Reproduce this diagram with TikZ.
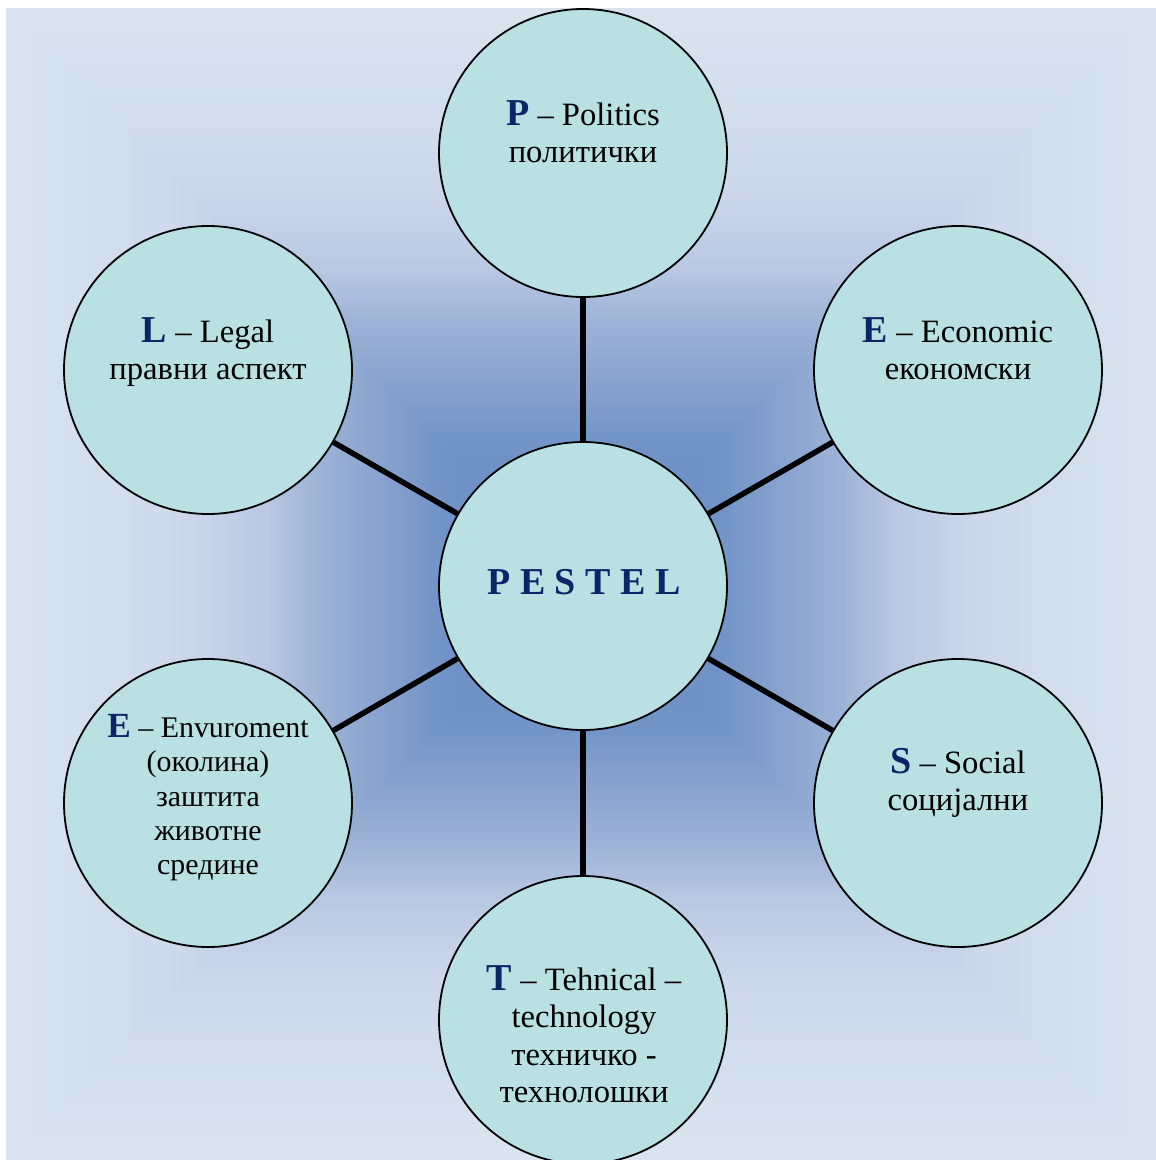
\documentclass[tikz,border=0pt]{standalone}
\usepackage{fontspec}
\setmainfont{Liberation Serif}
\definecolor{navy}{RGB}{10,38,104}
\definecolor{circfill}{RGB}{185,224,227}
\definecolor{gA}{RGB}{100,138,195}
\definecolor{gB}{RGB}{114,148,199}
\definecolor{gC}{RGB}{156,177,214}
\definecolor{gD}{RGB}{185,200,227}
\definecolor{gE}{RGB}{205,216,235}
\definecolor{gF}{RGB}{218,228,240}
\newcommand\gradseg[5]{%
  \foreach \i in {#1,#2,...,#3}{%
    \pgfmathsetmacro\p{100*(\i-#3)/(#1-#3)}%
    \pgfmathsetmacro\t{\i/200}%
    \fill[#4!\p!#5] ({581-575*\t},{584-576*\t}) rectangle ({581+575*\t},{584+576*\t});
  }}
\newcommand\BL[1]{{\fontsize{38}{37.5}\selectfont\bfseries\color{navy}#1}}
\newcommand\BLs[1]{{\fontsize{35.3}{34.4}\selectfont\bfseries\color{navy}#1}}
\begin{document}
\begin{tikzpicture}[x=1pt,y=-1pt,
  disc/.style={circle, draw=black, line width=1.8pt, fill=circfill, minimum size=288pt, inner sep=0pt},
  lbl/.style={anchor=north, align=center, inner sep=0pt, font=\fontsize{32.6}{37.5}\selectfont},
  lblsmall/.style={anchor=north, align=center, inner sep=0pt, font=\fontsize{29.9}{34.4}\selectfont},
  link/.style={line width=5.5pt, draw=black}]
\useasboundingbox (0,0) rectangle (1156,1160);
% background rectangular gradient
\gradseg{200}{199}{140}{gF}{gE}
\gradseg{140}{139}{110}{gE}{gD}
\gradseg{110}{109}{90}{gD}{gC}
\gradseg{90}{89}{50}{gC}{gB}
\gradseg{50}{49}{1}{gB}{gA}
% circles
\node[disc] (C) at (583,586) {};
\node[disc] (P) at (583,153) {};
\node[disc] (E1) at (958,370) {};
\node[disc] (S) at (958,803) {};
\node[disc] (T) at (583,1020) {};
\node[disc] (E2) at (208,803) {};
\node[disc] (L) at (208,370) {};
% connectors
\draw[link] (P) -- (C);
\draw[link] (E1) -- (C);
\draw[link] (S) -- (C);
\draw[link] (T) -- (C);
\draw[link] (E2) -- (C);
\draw[link] (L) -- (C);
% texts
\node[font=\fontsize{38}{40}\selectfont\bfseries, text=navy, anchor=base, inner sep=0pt] (Ct) at (584,594) {P E S T E L};
\node[lbl] (Pt) at (583,100) {\BL{P} – Politics\\политички};
\node[lbl] (E1t) at (958,317) {\BL{E} – Economic\\економски};
\node[lbl] (St) at (958,748) {\BL{S} – Social\\социјални};
\node[lbl] (Tt) at (584,965) {\BL{T} – Tehnical –\\technology\\техничко -\\технолошки};
\node[lblsmall] (E2t) at (208,714) {\BLs{E} – Envuroment\\(околина)\\заштита\\животне\\средине};
\node[lbl] (Lt) at (208,317) {\BL{L} – Legal\\правни аспект};
\end{tikzpicture}
\end{document}
